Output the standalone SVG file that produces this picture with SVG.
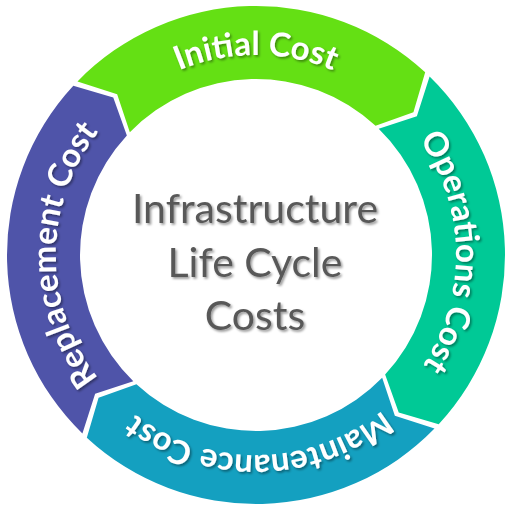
<svg xmlns="http://www.w3.org/2000/svg" xmlns:xlink="http://www.w3.org/1999/xlink" width="506" height="508" viewBox="0 0 506 508">
  <style>
    .ring-label { font-family: Lato, "Open Sans", "DejaVu Sans", sans-serif; font-size: 33px; font-weight: 700; fill: #ffffff; }
    .hub { font-family: Lato, "Open Sans", "DejaVu Sans", sans-serif; font-size: 41px; font-weight: 400; fill: #595959; text-anchor: middle; }
  </style>
  <defs>
    <!-- one quarter of the ring: notched start at 0deg, pointed end near 90deg (clockwise from top), origin at ring centre -->
    <path id="seg" d="M 3.042 -248.981 A 249 249 0 0 1 248.981 -3.042 L 211.902 15.933 L 175.987 -2.150 A 176 176 0 0 0 2.150 -175.987 L 21.106 -211.449 Z"/>
    <!-- clockwise label track (radius 200) starting at the bottom, so 50% lies at the top -->
    <path id="track" d="M 256 455 A 200 200 0 1 1 256 55 A 200 200 0 1 1 256 455"/>
    <filter id="shadow" x="-10%" y="-10%" width="120%" height="120%">
      <feDropShadow dx="1.6" dy="1.8" stdDeviation="1.3" flood-color="#000000" flood-opacity="0.4"/>
    </filter>
  </defs>

  <rect width="506" height="508" fill="#ffffff"/>

  <g id="connectors"></g>

  <g id="initial-cost">
    <use xlink:href="#seg" transform="translate(256 255) rotate(-46.5)" fill="#64E014"/>
    <g filter="url(#shadow)">
      <text class="ring-label"><textPath xlink:href="#track" startOffset="50%" text-anchor="middle">Initial Cost</textPath></text>
    </g>
  </g>

  <g id="operations-cost">
    <use xlink:href="#seg" transform="translate(256 255) rotate(43.5)" fill="#00C996"/>
    <g filter="url(#shadow)">
      <text class="ring-label" transform="rotate(89 256 255)"><textPath xlink:href="#track" startOffset="50%" text-anchor="middle">Operations Cost</textPath></text>
    </g>
  </g>

  <g id="maintenance-cost">
    <use xlink:href="#seg" transform="translate(256 255) rotate(133.5)" fill="#14A0C0"/>
    <g filter="url(#shadow)">
      <text class="ring-label" transform="rotate(179 256 255)"><textPath xlink:href="#track" startOffset="50%" text-anchor="middle">Maintenance Cost</textPath></text>
    </g>
  </g>

  <g id="replacement-cost">
    <use xlink:href="#seg" transform="translate(256 255) rotate(223.5)" fill="#4F54A9"/>
    <g filter="url(#shadow)">
      <text class="ring-label" transform="rotate(270 256 255)"><textPath xlink:href="#track" startOffset="50%" text-anchor="middle">Replacement Cost</textPath></text>
    </g>
  </g>

  <g id="hub" filter="url(#shadow)">
    <text class="hub" x="255" y="223">Infrastructure</text>
    <text class="hub" x="255" y="277">Life Cycle</text>
    <text class="hub" x="255" y="330">Costs</text>
  </g>
</svg>
